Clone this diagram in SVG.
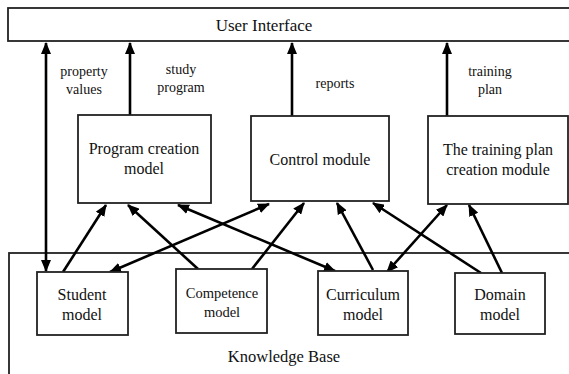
<svg xmlns="http://www.w3.org/2000/svg" width="569" height="374" viewBox="0 0 569 374">
<style>
.box{fill:#fff;stroke:#222;stroke-width:1.8}
.t{fill:#111;text-anchor:middle}
.c{stroke:#000;stroke-width:2.6;fill:none;marker-end:url(#ah)}
.d{marker-start:url(#ah)}
</style>
<defs>
<marker id="ah" viewBox="0 0 12 10" refX="11" refY="5" markerWidth="12" markerHeight="10" markerUnits="userSpaceOnUse" orient="auto-start-reverse">
<path d="M0,0 L12,5 L0,10 z" fill="#000"/>
</marker>
</defs>
<rect width="569" height="374" fill="#fff"/>
<g font-family="Liberation Serif, Times New Roman, serif">
<g id="ui">
<rect class="box" x="8" y="8" width="570" height="33"/>
<text class="t" x="264" y="31" font-size="17">User Interface</text>
</g>
<g id="kb">
<rect class="box" x="9" y="253" width="570" height="130"/>
<text class="t" x="284" y="362" font-size="16.5">Knowledge Base</text>
</g>
<g id="connectors">
<line class="c d" x1="46" y1="43" x2="46" y2="271"/>
<line class="c" x1="130" y1="115" x2="130" y2="43"/>
<line class="c" x1="292" y1="116" x2="292" y2="43"/>
<line class="c" x1="447" y1="116" x2="447" y2="43"/>
<line class="c" x1="63" y1="272" x2="106" y2="205"/>
<line class="c" x1="198" y1="269" x2="128" y2="205"/>
<line class="c d" x1="178" y1="205" x2="335" y2="271"/>
<line class="c d" x1="269" y1="204" x2="110" y2="272"/>
<line class="c" x1="252" y1="269" x2="304" y2="203"/>
<line class="c" x1="373" y1="270" x2="337" y2="203"/>
<line class="c" x1="481" y1="273" x2="373" y2="203"/>
<line class="c d" x1="447" y1="205" x2="387" y2="272"/>
<line class="c" x1="502" y1="273" x2="469" y2="205"/>
<text class="t" x="84" y="76" font-size="14">property</text>
<text class="t" x="84" y="94" font-size="14">values</text>
<text class="t" x="181" y="74" font-size="14">study</text>
<text class="t" x="181" y="92" font-size="14">program</text>
<text class="t" x="335" y="88" font-size="14">reports</text>
<text class="t" x="490" y="76" font-size="14">training</text>
<text class="t" x="490" y="94" font-size="14">plan</text>
</g>
<g id="program">
<rect class="box" x="78" y="115" width="133" height="88"/>
<text class="t" x="144" y="154" font-size="16">Program creation</text>
<text class="t" x="144" y="174" font-size="16">model</text>
</g>
<g id="control">
<rect class="box" x="251" y="116" width="138" height="85"/>
<text class="t" x="320" y="165" font-size="16">Control module</text>
</g>
<g id="training">
<rect class="box" x="428" y="116" width="140" height="88"/>
<text class="t" x="498" y="155" font-size="16">The training plan</text>
<text class="t" x="498" y="175" font-size="16">creation module</text>
</g>
<g id="student">
<rect class="box" x="37" y="272" width="91" height="63"/>
<text class="t" x="82" y="300" font-size="16">Student</text>
<text class="t" x="82" y="320" font-size="16">model</text>
</g>
<g id="competence">
<rect class="box" x="176" y="269" width="91" height="64"/>
<text class="t" x="222" y="298" font-size="14.5">Competence</text>
<text class="t" x="222" y="317" font-size="14.5">model</text>
</g>
<g id="curriculum">
<rect class="box" x="318" y="271" width="90" height="64"/>
<text class="t" x="363" y="300" font-size="16">Curriculum</text>
<text class="t" x="363" y="320" font-size="16">model</text>
</g>
<g id="domain">
<rect class="box" x="455" y="273" width="90" height="61"/>
<text class="t" x="500" y="300" font-size="16">Domain</text>
<text class="t" x="500" y="320" font-size="16">model</text>
</g>
</g>
</svg>
